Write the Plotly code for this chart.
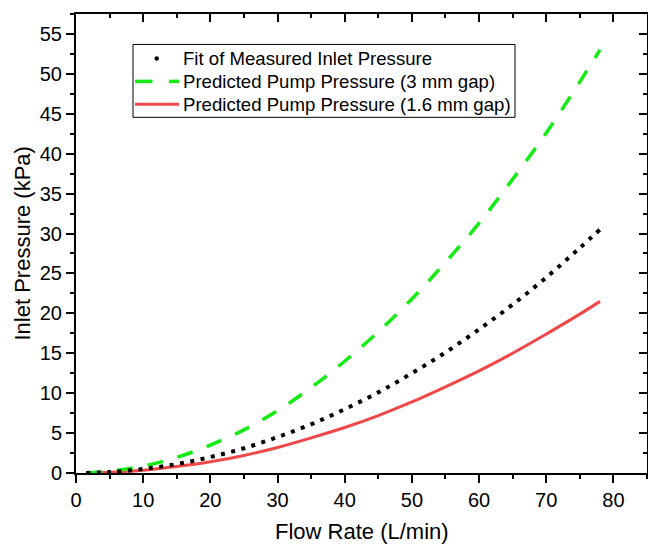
import plotly.graph_objects as go

flow = [1.5, 5, 10, 15, 20, 25, 30, 35, 40, 45, 50, 55, 60, 65, 70, 75, 78]
fit_measured = [0.01, 0.12, 0.5, 1.12, 2.0, 3.1, 4.5, 6.1, 8.0, 10.1, 12.5, 15.1, 18.0, 21.1, 24.5, 28.2, 30.5]
pred_3mm = [0.02, 0.22, 0.87, 1.95, 3.5, 5.4, 7.8, 10.7, 14.0, 17.7, 21.8, 26.4, 31.3, 36.8, 42.6, 49.0, 53.0]
pred_16mm = [0.01, 0.09, 0.35, 0.8, 1.4, 2.2, 3.2, 4.4, 5.7, 7.2, 8.9, 10.8, 12.8, 15.0, 17.4, 19.9, 21.5]

names = ["Fit of Measured Inlet Pressure",
         "Predicted Pump Pressure (3 mm gap)",
         "Predicted Pump Pressure (1.6 mm gap)"]
x_title = "Flow Rate (L/min)"
y_title = "Inlet Pressure (kPa)"
x_ticks = [0, 10, 20, 30, 40, 50, 60, 70, 80]
y_ticks = [0, 5, 10, 15, 20, 25, 30, 35, 40, 45, 50, 55]

GREEN = "#14ec14"
RED = "#f04848"
FONT = "Liberation Sans, Arial, sans-serif"

FIG_W, FIG_H = 648, 545
ML, MT, PW, PH = 76, 13.5, 571, 459.8


def px(xp):  # page pixel -> paper x
    return (xp - ML) / PW


def py(yp):  # page pixel -> paper y
    return (MT + PH - yp) / PH


fig = go.Figure()
fig.add_trace(go.Scatter(x=flow, y=pred_16mm, mode="lines", line=dict(color=RED, width=3, shape="spline"),
                         name=names[2], showlegend=False, hoverinfo="skip"))
fig.add_trace(go.Scatter(x=flow, y=pred_3mm, mode="lines",
                         line=dict(color=GREEN, width=3.5, dash="16px,15px", shape="spline"),
                         name=names[1], showlegend=False, hoverinfo="skip"))
fig.add_trace(go.Scatter(x=flow, y=fit_measured, mode="lines",
                         line=dict(color="black", width=4, dash="4px,6.5px", shape="spline"),
                         name=names[0], showlegend=False, hoverinfo="skip"))

axis_common = dict(showline=True, linecolor="black", linewidth=2, showgrid=False, zeroline=False,
                   ticklen=8, tickwidth=2, tickcolor="black", automargin=False,
                   tickfont=dict(family=FONT, size=20, color="black"))

row_y = [58, 81, 104]
shapes = [
    dict(type="rect", xref="paper", yref="paper", x0=px(133), x1=px(515), y0=py(117), y1=py(44),
         line=dict(color="black", width=1), fillcolor="rgba(0,0,0,0)", layer="above"),
    dict(type="circle", xref="paper", yref="paper", x0=px(154.5), x1=px(159), y0=py(row_y[0] + 2.25),
         y1=py(row_y[0] - 2.25), line=dict(color="black", width=0), fillcolor="black"),
    dict(type="line", xref="paper", yref="paper", x0=px(135), x1=px(152.5), y0=py(row_y[1]), y1=py(row_y[1]),
         line=dict(color=GREEN, width=3.5)),
    dict(type="line", xref="paper", yref="paper", x0=px(169), x1=px(179), y0=py(row_y[1]), y1=py(row_y[1]),
         line=dict(color=GREEN, width=3.5)),
    dict(type="line", xref="paper", yref="paper", x0=px(135), x1=px(179), y0=py(row_y[2]), y1=py(row_y[2]),
         line=dict(color=RED, width=3)),
]
annotations = [
    dict(text=x_title, xref="paper", yref="paper", x=0.5, y=py(532), xanchor="center", yanchor="middle",
         showarrow=False, font=dict(family=FONT, size=22, color="black")),
    dict(text=y_title, xref="paper", yref="paper", x=px(22), y=0.5, xanchor="center", yanchor="middle",
         textangle=-90, showarrow=False, font=dict(family=FONT, size=22, color="black")),
]
for name, yy in zip(names, row_y):
    annotations.append(dict(text=name, xref="paper", yref="paper", x=px(183), y=py(yy), xanchor="left",
                            yanchor="middle", showarrow=False, xshift=-2,
                            font=dict(family=FONT, size=18.6, color="black")))

fig.update_layout(
    width=FIG_W, height=FIG_H,
    margin=dict(l=ML, r=FIG_W - ML - PW, t=MT, b=FIG_H - MT - PH),
    paper_bgcolor="white", plot_bgcolor="white",
    font=dict(family=FONT, color="black"),
    showlegend=False,
    hovermode=False,
    xaxis=dict(range=[0, 85], tickvals=x_ticks, ticks="outside",
               minor=dict(dtick=5, tick0=0, ticklen=4, tickwidth=2, tickcolor="black", ticks="outside"),
               **axis_common),
    yaxis=dict(range=[0, 57.5], tickvals=y_ticks, ticks="outside",
               minor=dict(dtick=2.5, tick0=0, ticklen=4, tickwidth=2, tickcolor="black", ticks="outside"),
               **axis_common),
    xaxis2=dict(overlaying="x", matches="x", side="top", range=[0, 85], tickvals=x_ticks, ticks="inside",
                showticklabels=False,
                minor=dict(dtick=5, tick0=0, ticklen=4, tickwidth=2, tickcolor="black", ticks="inside"),
                **axis_common),
    yaxis2=dict(overlaying="y", matches="y", side="right", range=[0, 57.5], tickvals=y_ticks, ticks="inside",
                showticklabels=False,
                minor=dict(dtick=2.5, tick0=0, ticklen=4, tickwidth=2, tickcolor="black", ticks="inside"),
                **axis_common),
    shapes=shapes,
    annotations=annotations,
)
fig.add_trace(go.Scatter(x=[None], y=[None], xaxis="x2", yaxis="y2", showlegend=False))

fig.write_html("out.html", config={"displayModeBar": False, "staticPlot": True},
               post_script="document.body.style.margin='0';document.body.style.overflow='hidden';")
